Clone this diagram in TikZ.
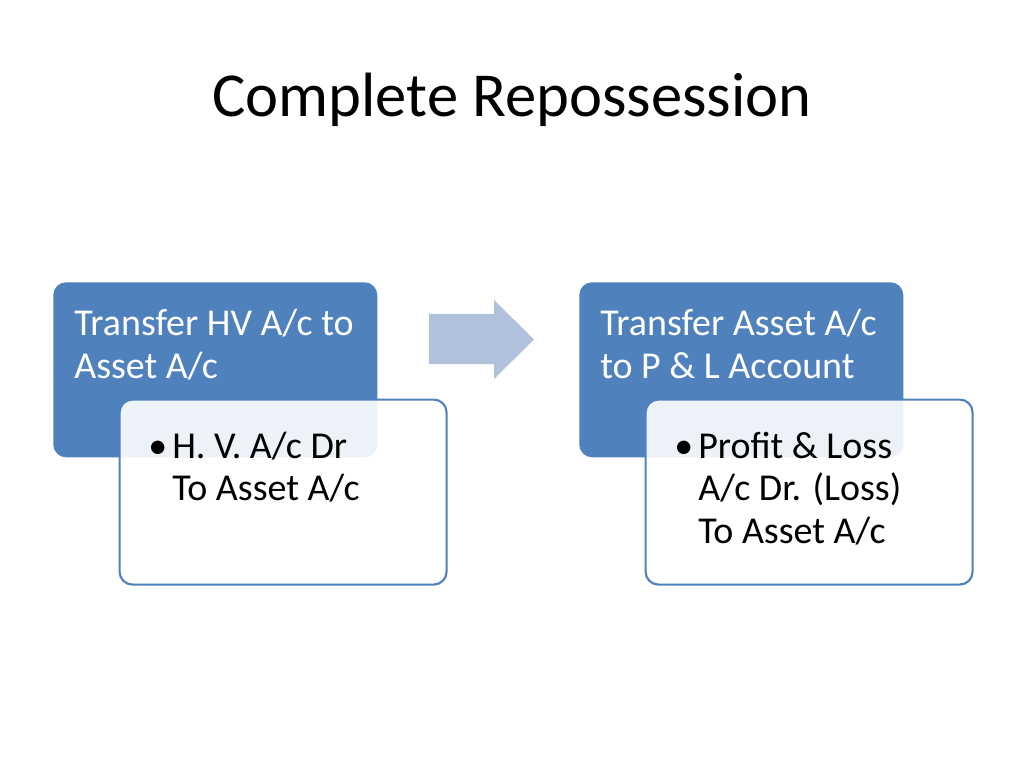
\documentclass[tikz,border=0pt]{standalone}
\usepackage{fontspec}
\setmainfont{Carlito}
\definecolor{accent}{HTML}{4F81BD}
\definecolor{arrowfill}{HTML}{B1C1DB}
\newcommand{\firstline}[1]{\parbox[t]{300pt}{\raggedright #1}}
\begin{document}
\begin{tikzpicture}[x=0.703125pt,y=-0.703125pt,
  bluebox/.style={draw=none,fill=accent,rounded corners=9pt,minimum width=324*0.703125pt,minimum height=175*0.703125pt,anchor=north west,inner sep=0pt},
  whitebox/.style={draw=accent,line width=1.5pt,fill=white,fill opacity=0.9,rounded corners=9pt,minimum width=327*0.703125pt,minimum height=185*0.703125pt,anchor=north west,inner sep=0pt},
  headtext/.style={text=white,font=\fontsize{26.7}{29.6}\selectfont,anchor=base west,inner sep=0pt},
  bodytext/.style={text=black,font=\fontsize{26.7}{30.2}\selectfont,anchor=base west,inner sep=0pt},
  bullettext/.style={text=black,font=\fontsize{26.7}{30.2}\selectfont,anchor=base west,inner sep=0pt}]
\useasboundingbox (0,0) rectangle (1024,768);
\fill[white] (0,0) rectangle (1024,768);
\node[font=\fontsize{44}{53}\selectfont,anchor=base,inner sep=0pt] (title) at (512,117) {Complete Repossession};
% left group
\node[bluebox] (b1) at (53,282) {};
\node[headtext] (t1) at (74,336) {\firstline{Transfer HV A/c to\\Asset A/c}};
\node[whitebox] (w1) at (118.5,398.5) {};
\node[bullettext] (d1) at (148,458) {•};
\node[bodytext] (s1) at (172,458) {\firstline{H. V. A/c Dr\\To Asset A/c}};
% arrow
\fill[arrowfill] (429,314) -- (494,314) -- (494,300) -- (534,339.5) -- (494,379) -- (494,364) -- (429,364) -- cycle;
% right group
\node[bluebox] (b2) at (579,282) {};
\node[headtext] (t2) at (600,336) {\firstline{Transfer Asset A/c\\to P \& L Account}};
\node[whitebox] (w2) at (644.5,398.5) {};
\node[bullettext] (d2) at (674,458) {•};
\node[bodytext] (s2) at (698,458) {\firstline{Profit \& Loss\\A/c Dr. (Loss)\\To Asset A/c}};
\end{tikzpicture}
\end{document}
